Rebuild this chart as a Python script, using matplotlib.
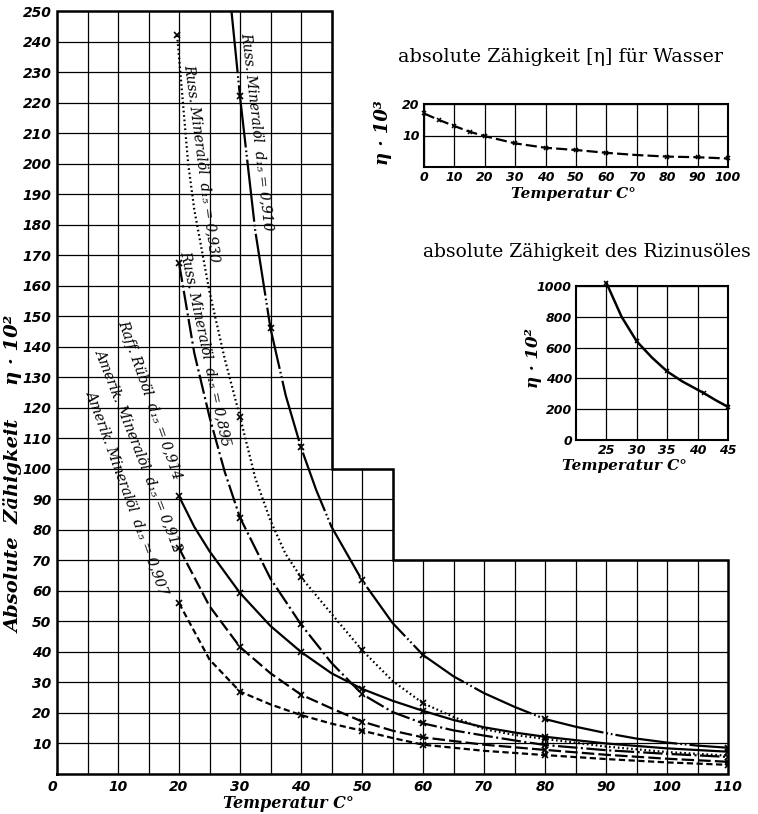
import numpy as np
import matplotlib
matplotlib.use("Agg")
import matplotlib.pyplot as plt

plt.rcParams['lines.scale_dashes'] = False

# ---------------- data ----------------
# main chart: absolute viscosity eta*10^2 vs temperature C
t_910 = [28.6, 30, 32.5, 35, 37.5, 40, 42.5, 45, 50, 55, 60, 65, 70, 75, 80, 85, 90, 95, 100, 105, 110]
v_910 = [250, 222, 178, 146, 124, 107, 93, 81, 63.5, 49.5, 39, 32, 26.5, 22, 18, 15.5, 13.4, 11.6, 10.3, 9.3, 8.6]
m_910 = [30, 35, 40, 50, 60, 80, 110]

t_930 = [19.7, 21.5, 22.5, 25, 27.5, 30, 32.5, 35, 37.5, 40, 45, 50, 55, 60, 65, 70, 75, 80, 90, 100, 110]
v_930 = [242, 200, 185, 158, 136, 117, 97, 83, 72, 64.5, 52.5, 40.6, 30.5, 23.2, 18.7, 14.7, 12.8, 11.5, 9.0, 7.2, 6.0]
m_930 = [19.7, 30, 40, 50, 60, 80]

t_895 = [20, 22.5, 25, 27.5, 30, 35, 40, 45, 50, 55, 60, 65, 70, 75, 80, 90, 100, 110]
v_895 = [167.5, 138, 117, 99, 84, 64, 49, 36.4, 26.2, 20.3, 16.6, 14.3, 12.6, 11.0, 9.5, 7.8, 6.6, 5.6]
m_895 = [20, 30, 40, 50, 60, 80, 110]

t_914 = [20, 22.5, 25, 30, 35, 40, 45, 50, 55, 60, 65, 70, 75, 80, 90, 100, 110]
v_914 = [91, 81, 73, 59.3, 48.5, 40, 33, 27.9, 24, 20.7, 17.7, 15.3, 13.6, 12.2, 10.0, 8.4, 7.3]
m_914 = [20, 30, 40, 50, 60, 80, 110]

t_912 = [20, 25, 30, 35, 40, 45, 50, 55, 60, 70, 80, 90, 100, 110]
v_912 = [74, 55, 41.6, 33, 26, 21.5, 17.2, 14.2, 12, 9.6, 7.9, 6.3, 5.0, 4.0]
m_912 = [20, 30, 40, 50, 60, 80, 110]

t_907 = [20, 25, 30, 35, 40, 45, 50, 55, 60, 70, 80, 90, 100, 110]
v_907 = [56, 37.5, 27, 22.8, 19.3, 16.5, 14.2, 11.8, 9.6, 7.6, 6.2, 4.9, 3.8, 3.0]
m_907 = [20, 30, 40, 50, 60, 80, 110]

labels = ["Russ. Mineralöl  d₁₅ = 0,910",
          "Russ. Mineralöl  d₁₅ = 0,930",
          "Russ. Mineralöl  d₁₅ = 0,895",
          "Raff. Rüböl  d₁₅ = 0,914",
          "Amerik. Mineralöl  d₁₅ = 0,912",
          "Amerik. Mineralöl  d₁₅ = 0,907"]

main_xticks = list(range(0, 111, 10))
main_yticks = list(range(10, 251, 10))

# water inset: eta*10^3
t_water = [0, 5, 10, 15, 20, 30, 40, 50, 60, 70, 80, 90, 100]
v_water = [17.0, 14.9, 13.0, 11.2, 9.8, 7.5, 6.1, 5.4, 4.5, 3.8, 3.3, 3.1, 2.7]
m_water = [0, 5, 10, 15, 20, 30, 40, 50, 60, 80, 90, 100]

# castor oil inset: eta*10^2
t_castor = [25, 27.5, 30, 32.5, 35, 37.5, 41, 43, 45]
v_castor = [1020, 800, 640, 535, 445, 380, 305, 258, 215]
m_castor = [25, 30, 35, 41, 45]

W, H = 758, 814
fig = plt.figure(figsize=(W / 100, H / 100), dpi=100)

tick_font = dict(family='DejaVu Sans', weight='bold', style='oblique', size=10)
small_tick_font = dict(family='DejaVu Sans', weight='bold', style='oblique', size=9)
lab_font = dict(family=['DejaVu Serif', 'DejaVu Sans'], style='italic', weight='bold')

# ---------------- main axes ----------------
ax = fig.add_axes([57 / W, (H - 774) / H, 671 / W, 763 / H])
ax.set_xlim(0, 110)
ax.set_ylim(0, 250)
for s in ax.spines.values():
    s.set_visible(False)
ax.set_xticks(main_xticks)
ax.set_yticks(main_yticks)
ax.set_xticklabels([str(v) for v in main_xticks], **tick_font)
ax.set_yticklabels([str(v) for v in main_yticks], **tick_font)
ax.tick_params(length=0, pad=4)
ax.get_xticklabels()[0].set_ha('right')

def top_of(x):
    return 250 if x <= 45 else (100 if x <= 55 else 70)

def right_of(y):
    return 110 if y <= 70 else (55 if y <= 100 else 45)

gx = np.arange(5, 110, 5)
ax.vlines(gx, 0, [top_of(x) for x in gx], color='k', lw=0.9)
gy = np.arange(10, 250, 10)
ax.hlines(gy, 0, [right_of(y) for y in gy], color='k', lw=0.9)
bx = [0, 110, 110, 55, 55, 45, 45, 0, 0]
by = [0, 0, 70, 70, 100, 100, 250, 250, 0]
ax.plot(bx, by, color='k', lw=1.8, clip_on=False, solid_joinstyle='miter')

def idx(ts, ms):
    return [i for i, t in enumerate(ts) if t in ms]

curves = [
    (t_910, v_910, m_910, (0, (45, 2.2, 1.2, 2, 1.2, 2.2))),
    (t_930, v_930, m_930, (0, (1.2, 2.0))),
    (t_895, v_895, m_895, (0, (14, 2.5, 1.5, 2.5))),
    (t_914, v_914, m_914, '-'),
    (t_912, v_912, m_912, (0, (9, 3))),
    (t_907, v_907, m_907, (0, (4.5, 2.5))),
]
for t, v, m, ls in curves:
    ax.plot(t, v, color='k', lw=1.6, ls=ls)
    ax.plot(np.array(t)[idx(t, m)], np.array(v)[idx(t, m)], ls='none',
            marker='x', ms=4, mew=1.2, color='k')

# curve labels (pixel centres, rotation)
label_pos = [(257, 132, -83.5), (202, 163, -82.5), (206, 348, -78),
             (150, 400, -70.7), (139, 450, -68.5), (128, 492, -70)]
for s, (px, py, rot) in zip(labels, label_pos):
    fig.text(px / W, 1 - py / H, s, rotation=rot, rotation_mode='anchor',
             ha='center', va='center', size=10,
             family=['DejaVu Serif', 'DejaVu Sans'], style='italic')

fig.text(14 / W, 1 - 474 / H, "Absolute  Zähigkeit     η · 10²", rotation=90,
         ha='center', va='center', size=14, **lab_font)
fig.text(288 / W, 1 - 804 / H, "Temperatur C°", ha='center', va='center',
         size=11.5, **lab_font)

# ---------------- water inset ----------------
aw = fig.add_axes([424 / W, (H - 167) / H, 304 / W, 63 / H])
aw.set_xlim(0, 100)
aw.set_ylim(0, 20)
aw.set_xticks(range(0, 101, 10))
aw.set_yticks([10, 20])
aw.set_xticklabels([str(v) for v in range(0, 101, 10)], **small_tick_font)
aw.set_yticklabels(['10', '20'], **small_tick_font)
aw.tick_params(length=0, pad=3)
aw.grid(True, color='k', lw=0.9)
for s in aw.spines.values():
    s.set_linewidth(1.5)
aw.plot(t_water, v_water, color='k', lw=1.6, ls=(0, (8, 3)), clip_on=False)
aw.plot(np.array(t_water)[idx(t_water, m_water)], np.array(v_water)[idx(t_water, m_water)],
        ls='none', marker='x', ms=3.5, mew=1.1, color='k', clip_on=False)
fig.text(383 / W, 1 - 133 / H, "η · 10³", rotation=90, ha='center', va='center',
         size=13, **lab_font)
fig.text(573 / W, 1 - 194 / H, "Temperatur C°", ha='center', va='center',
         size=11, **lab_font)
fig.text(561 / W, 1 - 57 / H, "absolute Zähigkeit [η] für Wasser", ha='center',
         va='center', size=13.8, family='DejaVu Serif')

# ---------------- castor oil inset ----------------
ac = fig.add_axes([576 / W, (H - 440) / H, 152 / W, 154 / H])
ac.set_xlim(20, 45)
ac.set_ylim(0, 1000)
ac.set_xticks([25, 30, 35, 40, 45])
ac.set_yticks(range(0, 1001, 200))
ac.set_xticklabels(['25', '30', '35', '40', '45'], **small_tick_font)
ac.set_yticklabels([str(v) for v in range(0, 1001, 200)], **small_tick_font)
ac.tick_params(length=0, pad=3)
ac.grid(True, color='k', lw=0.9)
for s in ac.spines.values():
    s.set_linewidth(1.5)
ac.plot(t_castor, v_castor, color='k', lw=1.8, clip_on=False)
ac.plot(np.array(t_castor)[idx(t_castor, m_castor)], np.array(v_castor)[idx(t_castor, m_castor)],
        ls='none', marker='x', ms=3.5, mew=1.1, color='k', clip_on=False)
fig.text(533 / W, 1 - 358 / H, "η · 10²", rotation=90, ha='center', va='center',
         size=12, **lab_font)
fig.text(624 / W, 1 - 466 / H, "Temperatur C°", ha='center', va='center',
         size=11, **lab_font)
fig.text(587 / W, 1 - 252 / H, "absolute Zähigkeit des Rizinusöles", ha='center',
         va='center', size=13.5, family='DejaVu Serif')

fig.savefig("out.png", dpi=100)
